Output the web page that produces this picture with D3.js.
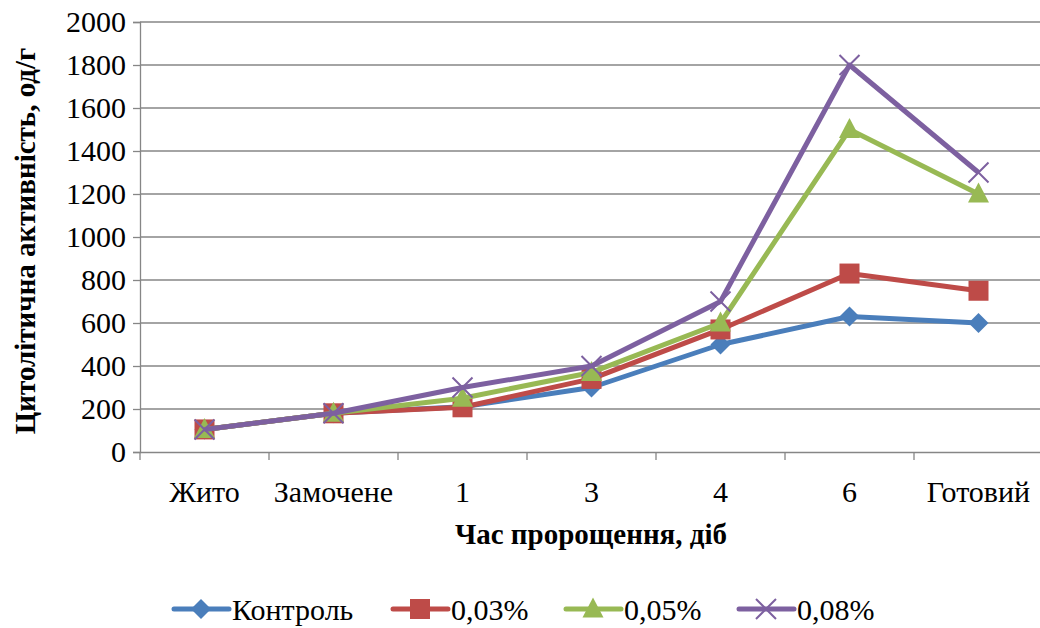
<!DOCTYPE html>
<html>
<head>
<meta charset="utf-8">
<script src="https://cdn.jsdelivr.net/npm/d3@7"></script>
</head>
<body style="margin:0">
<svg id="chart" width="1040" height="628"></svg>
<script>
// Germination stages
const categories = ["Жито", "Замочене", "1", "3", "4", "6", "Готовий"];
// Cytolytic activity per series
const control = [105, 180, 210, 300, 500, 630, 600];
const pct003 = [105, 180, 208, 340, 570, 830, 750];
const pct005 = [105, 180, 250, 370, 600, 1500, 1200];
const pct008 = [105, 180, 300, 400, 700, 1800, 1300];
const seriesNames = ["Контроль", "0,03%", "0,05%", "0,08%"];
const yTicks = [0, 200, 400, 600, 800, 1000, 1200, 1400, 1600, 1800, 2000];

const FONT = '"Liberation Serif"';

const series = [
  { name: seriesNames[0], values: control, color: "#4A7EBB", marker: "diamond" },
  { name: seriesNames[1], values: pct003, color: "#BE4B48", marker: "square" },
  { name: seriesNames[2], values: pct005, color: "#98B954", marker: "triangle" },
  { name: seriesNames[3], values: pct008, color: "#7D60A0", marker: "x" }
];

const svg = d3.select("#chart");
const plot = { left: 140, right: 1043, top: 22, bottom: 452 };

const x = d3.scaleBand().domain(categories).range([plot.left, plot.right]);
const y = d3.scaleLinear().domain([0, 2000]).range([plot.bottom, plot.top]);
const axisColor = "#868686";

// all labels go in one layer, written straight into the svg
const labels = [];
function addLabel(text, px, py, size, bold, anchor, rotate) {
  labels.push({ text, px, py, size, bold, anchor, rotate });
}

// horizontal gridlines
svg.append("g").selectAll("line").data(yTicks.filter(d => d > 0)).join("line")
  .attr("x1", plot.left).attr("x2", plot.right)
  .attr("y1", d => y(d)).attr("y2", d => y(d))
  .attr("stroke", axisColor).attr("stroke-width", 1.3);

// y axis line and ticks
const yAxis = svg.append("g").attr("transform", `translate(${plot.left},0)`)
  .call(d3.axisLeft(y).tickValues(yTicks).tickSize(7).tickFormat(""));
yAxis.select(".domain").attr("stroke", axisColor).attr("stroke-width", 1.3);
yAxis.selectAll(".tick line").attr("stroke", axisColor).attr("stroke-width", 1.3);
yAxis.selectAll(".tick text").remove();
yTicks.forEach(t => addLabel(d3.format("d")(t), plot.left - 14, y(t) + 10, 30, false, "end", 0));

// x axis line with ticks at category boundaries
const xAxis = svg.append("g").attr("transform", `translate(0,${plot.bottom})`)
  .call(d3.axisBottom(x).tickSize(0).tickFormat(""));
xAxis.select(".domain").attr("stroke", axisColor).attr("stroke-width", 1.3);
xAxis.selectAll(".tick text").remove();
const bounds = categories.map(c => x(c)).concat([x(categories[categories.length - 1]) + x.bandwidth()]);
svg.append("g").selectAll("line").data(bounds).join("line")
  .attr("x1", d => d).attr("x2", d => d)
  .attr("y1", plot.bottom).attr("y2", plot.bottom + 8)
  .attr("stroke", axisColor).attr("stroke-width", 1.3);
categories.forEach(c => addLabel(c, x(c) + x.bandwidth() / 2, 502, 30, false, "middle", 0));

// axis titles
addLabel("Цитолітична активність, од/г", 35, (plot.top + plot.bottom) / 2 + 4, 29, true, "middle", -90);
addLabel("Час пророщення, діб", 591, 544, 29, true, "middle", 0);

// marker drawing
function drawMarker(g, type, color, cx, cy, s) {
  if (type === "diamond") {
    g.append("path").attr("d", `M${cx},${cy - s}L${cx + s},${cy}L${cx},${cy + s}L${cx - s},${cy}Z`)
      .attr("fill", color);
  } else if (type === "square") {
    g.append("rect").attr("x", cx - s).attr("y", cy - s).attr("width", 2 * s).attr("height", 2 * s)
      .attr("fill", color);
  } else if (type === "triangle") {
    g.append("path").attr("d", `M${cx},${cy - s * 1.15}L${cx + s * 1.05},${cy + s * 0.85}L${cx - s * 1.05},${cy + s * 0.85}Z`)
      .attr("fill", color);
  } else {
    g.append("path").attr("d", `M${cx - s},${cy - s}L${cx + s},${cy + s}M${cx - s},${cy + s}L${cx + s},${cy - s}`)
      .attr("stroke", color).attr("stroke-width", 2).attr("fill", "none");
  }
}

const line = d3.line()
  .x((d, i) => x(categories[i]) + x.bandwidth() / 2)
  .y(d => y(d));

series.forEach(s => {
  const g = svg.append("g");
  g.append("path").datum(s.values).attr("d", line)
    .attr("fill", "none").attr("stroke", s.color).attr("stroke-width", 5)
    .attr("stroke-linejoin", "round");
  s.values.forEach((v, i) => {
    drawMarker(g, s.marker, s.color, x(categories[i]) + x.bandwidth() / 2, y(v), 10);
  });
});

// legend
const legendX = [174, 393, 566, 739];
series.forEach((s, i) => {
  const g = svg.append("g");
  const lx = legendX[i], ly = 609;
  g.append("line").attr("x1", lx).attr("x2", lx + 55).attr("y1", ly).attr("y2", ly)
    .attr("stroke", s.color).attr("stroke-width", 5).attr("stroke-linecap", "round");
  drawMarker(g, s.marker, s.color, lx + 27, ly, 10);
  addLabel(s.name, lx + 58, ly + 11, 30, false, "start", 0);
});

// text layer
svg.selectAll("text.lbl").data(labels).join("text")
  .attr("class", "lbl")
  .attr("x", d => d.rotate ? 0 : d.px)
  .attr("y", d => d.rotate ? 0 : d.py)
  .attr("transform", d => d.rotate ? `translate(${d.px},${d.py}) rotate(${d.rotate})` : null)
  .attr("text-anchor", d => d.anchor)
  .style("font-family", FONT)
  .style("font-size", d => d.size + "px")
  .style("font-weight", d => d.bold ? "bold" : "normal")
  .text(d => d.text);
</script>
</body>
</html>
